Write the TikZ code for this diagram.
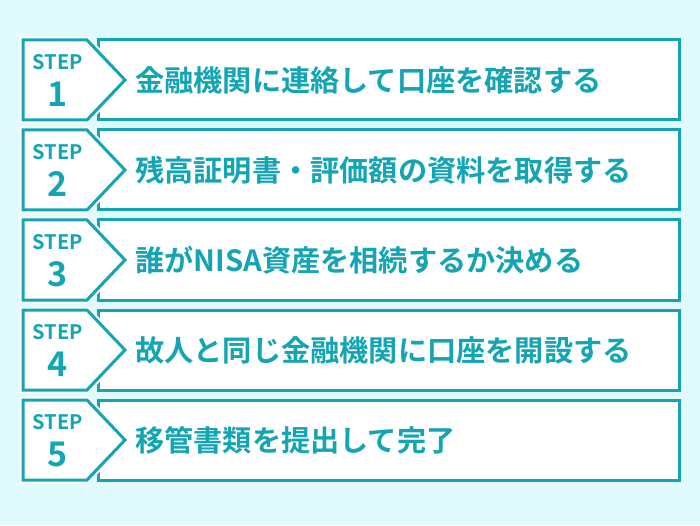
\documentclass[tikz,border=0pt]{standalone}
\usepackage{fontspec}
\setmainfont{Noto Sans CJK JP}[BoldFont={* Bold}]
\newfontfamily\cjk{Noto Sans CJK JP}[BoldFont={* Bold}]
\usetikzlibrary{positioning}
\definecolor{stepteal}{HTML}{14A5B4}
\definecolor{bgcyan}{HTML}{E0FAFD}
\begin{document}
\begin{tikzpicture}[x=1pt,y=1pt,
  stepbox/.style={draw=stepteal, fill=white, line width=3pt},
  steplabel/.style={text=stepteal, font=\bfseries\fontsize{20}{20}\selectfont, inner sep=0pt},
  stepnum/.style={text=stepteal, font=\bfseries\fontsize{34}{34}\selectfont, inner sep=0pt},
  steptext/.style={text=stepteal, font=\cjk\bfseries\fontsize{29.2}{29.2}\selectfont, anchor=west, inner sep=0pt}]
  \fill[bgcyan] (0,0) rectangle (700,525);
  \useasboundingbox (0,0) rectangle (700,525);
  \foreach \n/\txt [count=\i from 0] in {1/金融機関に連絡して口座を確認する,
      2/残高証明書・評価額の資料を取得する,
      3/誰がNISA資産を相続するか決める,
      4/故人と同じ金融機関に口座を開設する,
      5/移管書類を提出して完了}{
    \pgfmathsetmacro\ytop{485-90*\i}
    \pgfmathsetmacro\ybot{\ytop-80}
    \pgfmathsetmacro\ymid{\ytop-40}
    % Row box
    \draw[stepbox] (98,\ybot) rectangle (679,\ytop);
    % Badge
    \draw[white, line width=7pt, fill=white] (23,\ytop) -- (87,\ytop) -- (125,\ymid) -- (87,\ybot) -- (23,\ybot) -- cycle;
    \draw[stepbox] (23,\ytop) -- (87,\ytop) -- (125,\ymid) -- (87,\ybot) -- (23,\ybot) -- cycle;
    \node[steplabel] (step\n) at (58,\ytop-22) {STEP};
    \node[stepnum] (num\n) at (58,\ytop-54) {\n};
    \node[steptext] (text\n) at (135,\ymid) {\txt};
  }
\end{tikzpicture}
\end{document}
